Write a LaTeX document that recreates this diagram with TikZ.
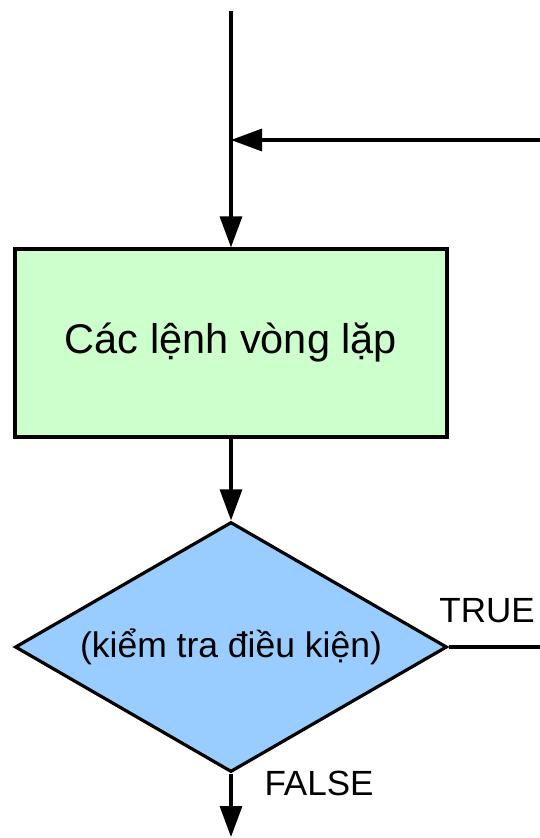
\documentclass[tikz,border=0pt]{standalone}
\usepackage{fontspec}
\setmainfont{Liberation Sans}
\usetikzlibrary{arrows.meta,shapes.geometric}
\definecolor{boxgreen}{HTML}{CCFFCC}
\definecolor{diablue}{HTML}{99CCFF}
\tikzset{
  conn/.style={line width=3.2pt, -{Triangle[length=31pt,width=22pt]}},
  plainconn/.style={line width=3.2pt},
  stepbox/.style={draw, line width=3.2pt, fill=boxgreen, rectangle, minimum width=432pt, minimum height=188pt, inner sep=0pt, font=\fontsize{41.5}{48}\selectfont},
  decision/.style={draw, line width=3.2pt, fill=diablue, diamond, shape aspect=1.728, minimum width=432pt, minimum height=250pt, inner sep=0pt, font=\fontsize{35.5}{41}\selectfont},
  lbl/.style={inner sep=0pt, font=\fontsize{35}{40}\selectfont}
}
\begin{document}
\begin{tikzpicture}[x=1pt,y=-1pt]
\useasboundingbox (0,0) rectangle (540,838);
\coordinate (top) at (231,11);
\coordinate (merge) at (231,140);
\coordinate (loopin) at (540,140);
\node[stepbox] (body) at (231,343) {Các lệnh vòng lặp};
\node[decision] (cond) at (231,647) {(kiểm tra điều kiện)};
\coordinate (trueend) at (540,647);
\coordinate (out) at (231,837);
\node[lbl, anchor=base] (truelbl) at (487,622) {TRUE};
\node[lbl, anchor=base] (falselbl) at (319,795) {FALSE};
\draw[conn] (top) -- (body.north);
\draw[conn] (loopin) -- (merge);
\draw[conn] (body.south) -- (cond.north);
\draw[plainconn] (cond.east) -- (trueend);
\draw[conn] (cond.south) -- (out);
\end{tikzpicture}
\end{document}
